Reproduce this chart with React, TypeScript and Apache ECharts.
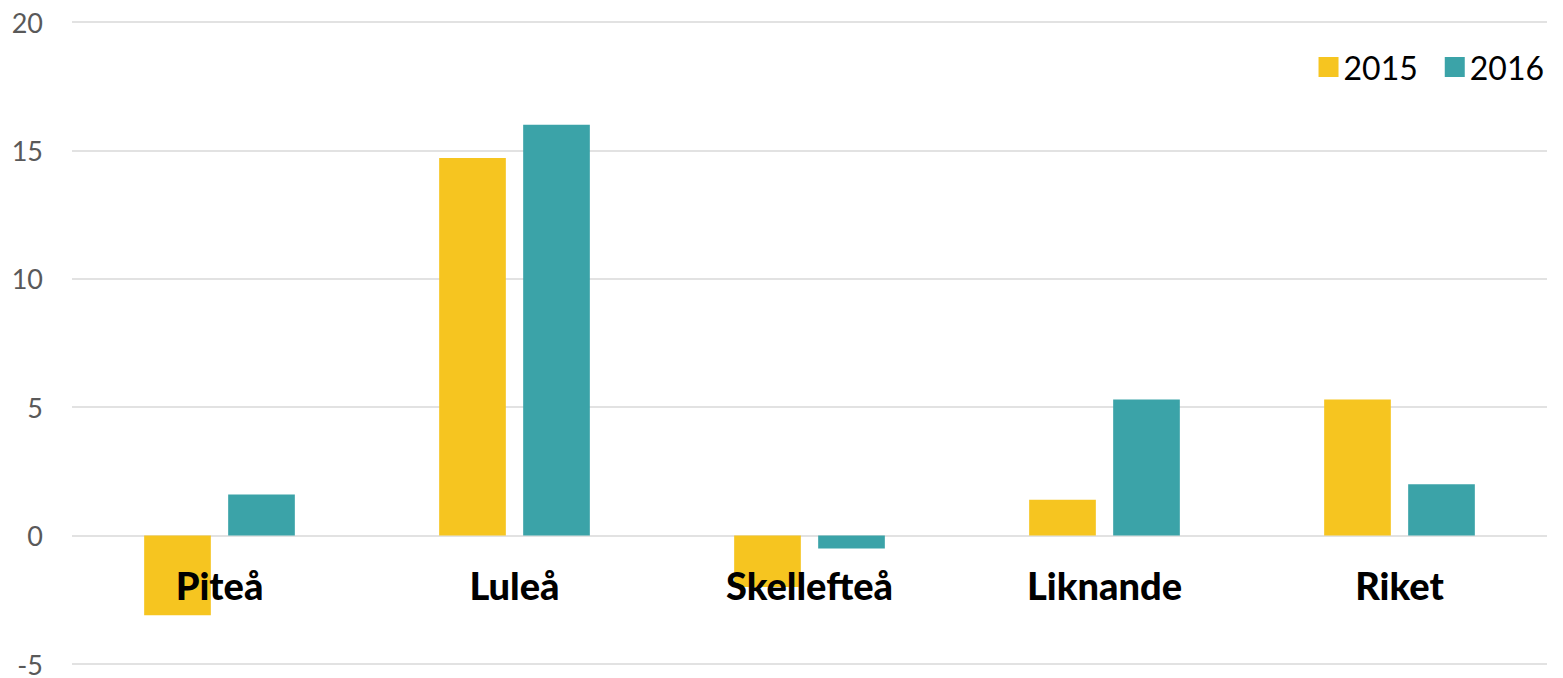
import React, { useEffect, useRef } from "react";
import * as echarts from "echarts";

const categories = ["Piteå", "Luleå", "Skellefteå", "Liknande", "Riket"];
const values2015 = [-3.1, 14.7, -2.0, 1.4, 5.3];
const values2016 = [1.6, 16.0, -0.5, 5.3, 2.0];
const seriesNames = ["2015", "2016"];
const colors = ["#F6C520", "#3BA3A8"];

export default function App() {
  const ref = useRef<HTMLDivElement>(null);
  useEffect(() => {
    if (!ref.current) return;
    const chart = echarts.init(ref.current, null, { renderer: "svg" });
    chart.setOption({
      animation: false,
      color: colors,
      grid: {
        left: 72,
        right: 16,
        top: 22,
        bottom: 14,
        containLabel: false,
        outerBoundsMode: "none",
      },
      legend: {
        right: 14,
        top: 46,
        itemWidth: 20,
        itemHeight: 20,
        itemGap: 27,
        icon: "rect",
        textStyle: { fontFamily: "Lato", fontSize: 32, color: "#000" },
        data: seriesNames,
      },
      xAxis: {
        type: "category",
        data: categories,
        z: 5,
        position: "bottom",
        offset: -128,
        axisLine: { show: false, onZero: false },
        axisTick: { show: false },
        axisLabel: {
          margin: 30,
          fontFamily: "Lato",
          fontWeight: 900,
          fontSize: 38,
          color: "#000",
        },
      },
      yAxis: {
        type: "value",
        min: -5,
        max: 20,
        interval: 5,
        axisLine: { show: false },
        axisTick: { show: false },
        splitLine: { lineStyle: { color: "#D9D9D9", width: 1.5 } },
        axisLabel: {
          margin: 29,
          fontFamily: "Lato",
          fontSize: 27,
          color: "#595959",
        },
      },
      series: [
        {
          name: seriesNames[0],
          type: "bar",
          data: values2015,
          barWidth: "22.6%",
          barGap: "26%",
          itemStyle: { color: colors[0] },
        },
        {
          name: seriesNames[1],
          type: "bar",
          data: values2016,
          barWidth: "22.6%",
          barGap: "26%",
          itemStyle: { color: colors[1] },
        },
      ],
    });
    return () => chart.dispose();
  }, []);
  return (
    <div
      ref={ref}
      style={{ position: "absolute", left: 0, top: 0, width: 1563, height: 678 }}
    />
  );
}
